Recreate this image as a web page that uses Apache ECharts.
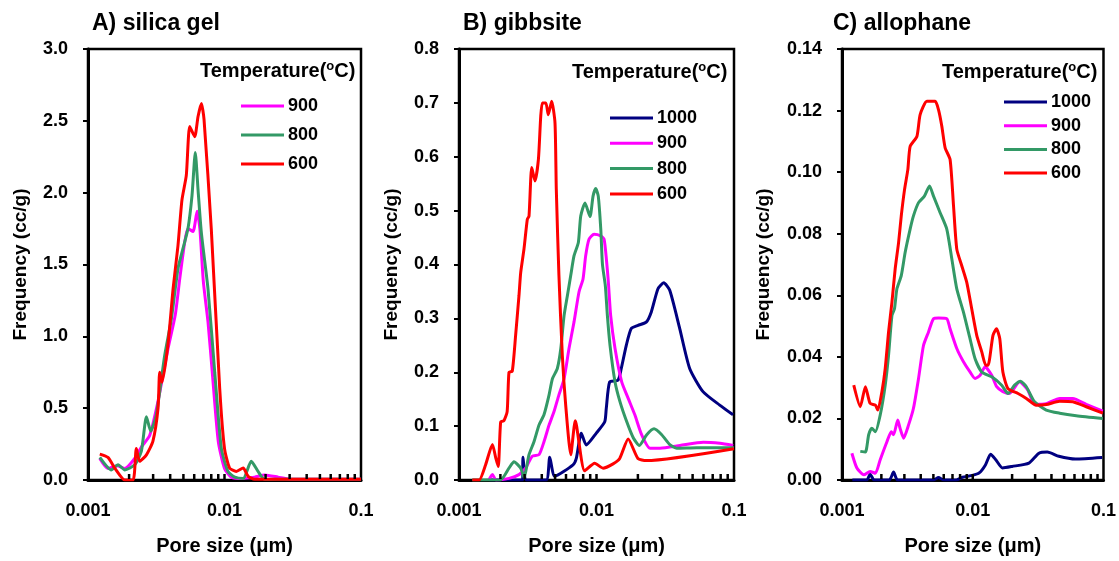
<!DOCTYPE html>
<html>
<head>
<meta charset="utf-8">
<script src="https://cdn.jsdelivr.net/npm/echarts@6/dist/echarts.min.js"></script>
<style>
html,body{margin:0;padding:0;background:#fff;}
#chart{width:1119px;height:561px;}
</style>
</head>
<body>
<div id="chart"></div>
<script>
// ---------- data ----------
const panelTitles = ['A) silica gel', 'B) gibbsite', 'C) allophane'];
const xTickLabels = ['0.001', '0.01', '0.1'];
const minorTickValues = [0.002,0.003,0.004,0.005,0.006,0.007,0.008,0.009,0.01,0.02,0.03,0.04,0.05,0.06,0.07,0.08,0.09];
const tempNames = ['1000', '900', '800', '600'];

// A) silica gel
const silica900 = [[0.00122,0.15],[0.0014,0.08],[0.00163,0.10],[0.00186,0.08],[0.0022,0.15],[0.00246,0.23],[0.00283,0.31],[0.00326,0.55],[0.00385,0.91],[0.00436,1.15],[0.0047,1.40],[0.0051,1.65],[0.0054,1.75],[0.00588,1.73],[0.0063,1.87],[0.0066,1.75],[0.0070,1.38],[0.00757,1.10],[0.0082,0.71],[0.0090,0.27],[0.0100,0.08],[0.0112,0.02],[0.0135,0.01],[0.0166,0.02],[0.0197,0.035],[0.0247,0.02],[0.030,0.006],[0.05,0.005],[0.1,0.005]];
const silica800 = [[0.00122,0.157],[0.00148,0.07],[0.00166,0.106],[0.00186,0.07],[0.0022,0.106],[0.00246,0.2],[0.00268,0.44],[0.00288,0.34],[0.00316,0.45],[0.00365,0.87],[0.00408,1.12],[0.00456,1.47],[0.00496,1.61],[0.0054,1.75],[0.00578,1.98],[0.00611,2.28],[0.0064,2.02],[0.00677,1.72],[0.00757,1.33],[0.00848,0.75],[0.00948,0.22],[0.0106,0.06],[0.0119,0.02],[0.0137,0.01],[0.0157,0.13],[0.0176,0.06],[0.0197,0.004],[0.03,0.005],[0.1,0.005]];
const silica600 = [[0.00122,0.18],[0.0014,0.157],[0.00157,0.083],[0.00186,0.0],[0.00214,0.0],[0.00226,0.22],[0.00239,0.13],[0.00268,0.175],[0.00299,0.27],[0.00326,0.5],[0.00335,0.75],[0.00348,0.68],[0.00385,0.94],[0.0042,1.33],[0.00456,1.63],[0.00488,1.95],[0.00525,2.12],[0.00556,2.46],[0.00605,2.39],[0.0064,2.53],[0.00677,2.62],[0.00708,2.51],[0.0080,1.75],[0.00922,0.64],[0.0100,0.22],[0.0109,0.083],[0.0122,0.06],[0.0137,0.083],[0.0149,0.025],[0.0166,0.005],[0.03,0.005],[0.1,0.005]];

// B) gibbsite
const gibbsite1000 = [[0.00167,0],[0.0029,0],[0.00292,0.042],[0.0031,0],[0.00431,0],[0.00457,0.042],[0.00497,0.007],[0.00675,0.028],[0.00713,0.04],[0.00775,0.087],[0.00843,0.065],[0.00997,0.087],[0.01148,0.108],[0.01178,0.133],[0.01247,0.182],[0.01433,0.185],[0.01514,0.207],[0.01647,0.25],[0.0179,0.281],[0.02004,0.287],[0.0230,0.293],[0.02504,0.312],[0.028,0.355],[0.03083,0.366],[0.0341,0.352],[0.0403,0.281],[0.0476,0.207],[0.0595,0.164],[0.0787,0.139],[0.0984,0.121]];
const gibbsite900 = [[0.00165,0],[0.00175,0.01],[0.00186,0],[0.00231,0.003],[0.00273,0.01],[0.00305,0.022],[0.00341,0.044],[0.00382,0.047],[0.00415,0.071],[0.00452,0.102],[0.00491,0.127],[0.00533,0.158],[0.00581,0.188],[0.00631,0.244],[0.00686,0.293],[0.00746,0.349],[0.00798,0.373],[0.00834,0.416],[0.00882,0.447],[0.0096,0.456],[0.01074,0.453],[0.01135,0.447],[0.0118,0.41],[0.0122,0.367],[0.01268,0.305],[0.01364,0.244],[0.01525,0.182],[0.01703,0.151],[0.019,0.121],[0.0213,0.084],[0.0245,0.059],[0.029,0.059],[0.0405,0.064],[0.0598,0.07],[0.079,0.068],[0.0987,0.064]];
const gibbsite800 = [[0.00125,0],[0.002,0],[0.00231,0.022],[0.00251,0.034],[0.00281,0.022],[0.00297,0.005],[0.00323,0.047],[0.00351,0.071],[0.00382,0.102],[0.00415,0.121],[0.00452,0.158],[0.00478,0.188],[0.00519,0.207],[0.0055,0.244],[0.00581,0.305],[0.00614,0.342],[0.00649,0.379],[0.00686,0.416],[0.00738,0.441],[0.00768,0.49],[0.00825,0.514],[0.00897,0.489],[0.00944,0.527],[0.00987,0.541],[0.0103,0.527],[0.01074,0.466],[0.01105,0.4],[0.0116,0.36],[0.012,0.305],[0.01254,0.25],[0.01364,0.182],[0.01483,0.145],[0.0166,0.108],[0.01854,0.078],[0.0205,0.064],[0.0232,0.084],[0.0262,0.095],[0.0298,0.084],[0.0343,0.065],[0.0383,0.059],[0.0536,0.06],[0.1,0.06]];
const gibbsite600 = [[0.00125,0],[0.0014,0],[0.00156,0.028],[0.00175,0.066],[0.00185,0.041],[0.00193,0.025],[0.00201,0.108],[0.00212,0.11],[0.00224,0.127],[0.00231,0.2],[0.00244,0.202],[0.00258,0.268],[0.00273,0.342],[0.00281,0.385],[0.00297,0.429],[0.00314,0.484],[0.00323,0.49],[0.00338,0.58],[0.00357,0.555],[0.00378,0.595],[0.00393,0.675],[0.00404,0.70],[0.00428,0.70],[0.00446,0.678],[0.00472,0.703],[0.00499,0.663],[0.0051,0.54],[0.00533,0.38],[0.00564,0.232],[0.00597,0.139],[0.0065,0.047],[0.00701,0.11],[0.0082,0.017],[0.0097,0.031],[0.01115,0.022],[0.0132,0.03],[0.01475,0.04],[0.0170,0.076],[0.020,0.04],[0.023,0.036],[0.1,0.058]];

// C) allophane
const allophane1000 = [[0.0012,0],[0.00155,0],[0.00164,0.0019],[0.00176,0],[0.0023,0],[0.00248,0.0026],[0.00266,0],[0.005,0],[0.00547,0.0008],[0.006,0],[0.0075,0],[0.00834,0.0009],[0.00993,0.0015],[0.0112,0.0023],[0.0125,0.0049],[0.0137,0.0084],[0.015,0.0066],[0.0169,0.0039],[0.020,0.0044],[0.0269,0.0055],[0.0321,0.0087],[0.0372,0.0091],[0.0456,0.0077],[0.0611,0.0068],[0.0977,0.0073]];
const allophane900 = [[0.00119,0.0087],[0.0013,0.0039],[0.00147,0.0017],[0.00164,0.0028],[0.0018,0.0022],[0.00196,0.0066],[0.00221,0.0125],[0.00238,0.0157],[0.00248,0.0147],[0.00267,0.0195],[0.00278,0.0168],[0.00296,0.0136],[0.00323,0.0179],[0.00352,0.0233],[0.00385,0.033],[0.0042,0.0437],[0.00459,0.0481],[0.00501,0.0524],[0.00547,0.0526],[0.00633,0.0524],[0.00671,0.0491],[0.00755,0.0427],[0.00849,0.0384],[0.00953,0.0351],[0.01042,0.033],[0.01138,0.034],[0.01242,0.0368],[0.01397,0.034],[0.01525,0.0303],[0.0170,0.0287],[0.0191,0.0281],[0.0228,0.0319],[0.0264,0.0292],[0.0297,0.0246],[0.0365,0.0248],[0.0462,0.0265],[0.0583,0.0265],[0.0738,0.0246],[0.0989,0.0224]];
const allophane800 = [[0.00138,0.0093],[0.00151,0.0091],[0.0016,0.0147],[0.00169,0.0168],[0.0018,0.0157],[0.00196,0.0211],[0.00214,0.0308],[0.00227,0.0405],[0.00241,0.0534],[0.00252,0.0556],[0.00263,0.0621],[0.00284,0.0664],[0.00304,0.0739],[0.00332,0.0815],[0.00352,0.0858],[0.00385,0.0901],[0.00427,0.0922],[0.00467,0.0955],[0.00501,0.0922],[0.00562,0.0869],[0.00633,0.0815],[0.00692,0.0718],[0.00755,0.0621],[0.00849,0.0545],[0.00953,0.0459],[0.01042,0.0394],[0.01172,0.0351],[0.01397,0.0335],[0.01665,0.0308],[0.0186,0.0281],[0.0209,0.0308],[0.0232,0.0321],[0.0257,0.0303],[0.0297,0.0254],[0.0365,0.0227],[0.0462,0.0217],[0.0619,0.0209],[0.0989,0.02]];
const allophane600 = [[0.00123,0.0308],[0.00138,0.0238],[0.00151,0.0303],[0.00164,0.0249],[0.0018,0.0243],[0.00188,0.0227],[0.00202,0.0287],[0.00214,0.0362],[0.00227,0.048],[0.00241,0.0578],[0.00255,0.0685],[0.00271,0.0772],[0.00284,0.0858],[0.00301,0.0944],[0.00319,0.1009],[0.00332,0.1084],[0.00374,0.1116],[0.00396,0.1187],[0.00446,0.123],[0.00516,0.123],[0.00547,0.1203],[0.0058,0.1149],[0.00615,0.1079],[0.00671,0.1041],[0.00713,0.089],[0.00755,0.075],[0.00824,0.0696],[0.009,0.0642],[0.00982,0.0556],[0.01073,0.047],[0.01172,0.0416],[0.01257,0.0373],[0.0131,0.0373],[0.01428,0.047],[0.0152,0.0491],[0.0161,0.0459],[0.0170,0.0351],[0.0186,0.0297],[0.0222,0.0281],[0.0257,0.0265],[0.0306,0.0243],[0.0365,0.0245],[0.0462,0.0256],[0.0583,0.0254],[0.0738,0.0238],[0.0989,0.0217]];

const yMax = [3.0, 0.8, 0.14];
const yInterval = [0.5, 0.1, 0.02];
const yDecimals = [1, 1, 2];

// ---------- styling ----------
const FONT = '"Liberation Sans", Arial, sans-serif';
const colors = {'1000': '#000080', '900': '#FF00FF', '800': '#339966', '600': '#FF0000'};
const grids = [
  {left: 88, top: 49, width: 273, height: 433},
  {left: 459, top: 49, width: 275, height: 433},
  {left: 842, top: 49, width: 262, height: 433}
];
const yNameGap = [58, 58, 69];
const panelSeries = [
  [['900', silica900], ['800', silica800], ['600', silica600]],
  [['1000', gibbsite1000], ['900', gibbsite900], ['800', gibbsite800], ['600', gibbsite600]],
  [['1000', allophane1000], ['900', allophane900], ['800', allophane800], ['600', allophane600]]
];
const legendPos = [
  {left: 241, top: 97, gap: 11},
  {left: 610, top: 109, gap: 7.3},
  {left: 1004, top: 93, gap: 5.7}
];
const legendTitlePos = [{left: 200, top: 60}, {left: 572, top: 61}, {left: 942, top: 61}];
const titleLeft = [92, 463, 833];

const option = {
  animation: false,
  backgroundColor: '#fff',
  textStyle: {fontFamily: FONT},
  grid: grids.map(g => Object.assign({show: true, borderColor: '#000', borderWidth: 2.5, backgroundColor: 'transparent', containLabel: false}, g)),
  title: [],
  legend: [],
  xAxis: [],
  yAxis: [],
  series: []
};

for (let i = 0; i < 3; i++) {
  option.title.push({
    text: panelTitles[i], left: titleLeft[i], top: 12, padding: 0,
    textStyle: {fontFamily: FONT, fontWeight: 'bold', fontSize: 23, color: '#000'}
  });
  option.title.push({
    text: '{a|Temperature(}{s|o}{a|C)}', left: legendTitlePos[i].left, top: legendTitlePos[i].top, padding: 0,
    textStyle: {
      rich: {
        a: {fontFamily: FONT, fontWeight: 'bold', fontSize: 20, color: '#000', lineHeight: 22},
        s: {fontFamily: FONT, fontWeight: 'bold', fontSize: 13, color: '#000', lineHeight: 13, verticalAlign: 'top'}
      }
    }
  });
  const names = panelSeries[i].map(s => s[0]);
  option.legend.push({
    orient: 'vertical', left: legendPos[i].left, top: legendPos[i].top,
    icon: 'rect', itemWidth: 43, itemHeight: 3, itemGap: legendPos[i].gap, padding: 0,
    selectedMode: false,
    data: names,
    textStyle: {fontFamily: FONT, fontWeight: 'bold', fontSize: 18, color: '#000', lineHeight: 18, padding: [0, 0, 0, -1]}
  });
  option.xAxis.push({
    type: 'log', logBase: 10, gridIndex: i, min: 0.001, max: 0.1,
    name: 'Pore size (μm)', nameLocation: 'middle', nameGap: 56,
    nameTextStyle: {fontFamily: FONT, fontWeight: 'bold', fontSize: 20, color: '#000'},
    axisLine: {show: true, onZero: false, lineStyle: {color: '#000', width: 3}},
    axisTick: {show: false},
    minorTick: {show: false},
    splitLine: {show: false},
    axisLabel: {
      margin: 22, fontFamily: FONT, fontWeight: 'bold', fontSize: 18, color: '#000',
      formatter: v => xTickLabels[Math.round(Math.log10(v)) + 3] || ''
    }
  });
  option.yAxis.push({
    type: 'value', gridIndex: i, min: 0, max: yMax[i], interval: yInterval[i],
    name: 'Frequency (cc/g)', nameLocation: 'middle', nameGap: yNameGap[i],
    nameTextStyle: {fontFamily: FONT, fontWeight: 'bold', fontSize: 19, color: '#000'},
    axisLine: {show: true, lineStyle: {color: '#000', width: 3}},
    axisTick: {show: true, inside: false, length: 5, lineStyle: {color: '#000', width: 2}},
    splitLine: {show: false},
    axisLabel: {
      margin: 20, fontFamily: FONT, fontWeight: 'bold', fontSize: 18, color: '#000',
      formatter: v => v.toFixed(yDecimals[i])
    }
  });
  // minor ticks along the bottom axis, placed via the log scale
  option.series.push({
    type: 'custom', xAxisIndex: i, yAxisIndex: i, silent: true, z: 10, clip: false,
    data: minorTickValues.map(v => [v, 0]),
    renderItem: (params, api) => {
      const p = api.coord([api.value(0), 0]);
      return {type: 'line', shape: {x1: p[0], y1: p[1] - 1, x2: p[0], y2: p[1] - 6},
              style: {stroke: '#000', lineWidth: 2.5}};
    }
  });
  panelSeries[i].forEach(([name, data]) => {
    option.series.push({
      type: 'line', name: name, xAxisIndex: i, yAxisIndex: i,
      data: data, showSymbol: false, symbol: 'none', smooth: 0.2,
      color: colors[name],
      lineStyle: {width: 3, color: colors[name]},
      z: 3
    });
  });
}

const chart = echarts.init(document.getElementById('chart'), null, {renderer: 'canvas'});
chart.setOption(option);
</script>
</body>
</html>
